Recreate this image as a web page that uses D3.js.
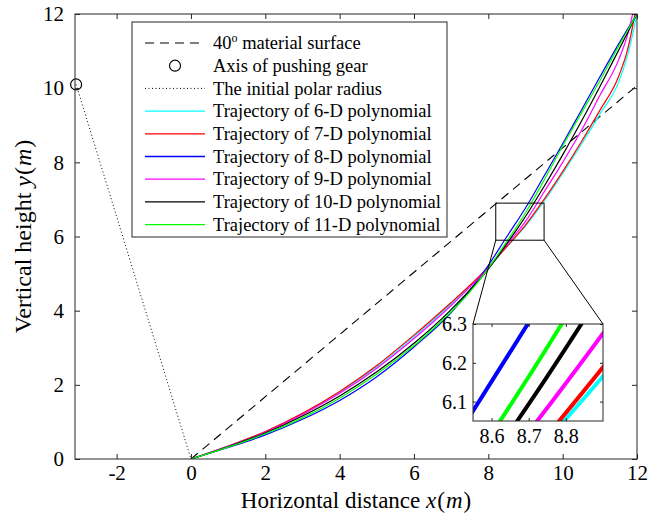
<!DOCTYPE html>
<html>
<head>
<meta charset="utf-8">
<script src="https://cdn.jsdelivr.net/npm/d3@7/dist/d3.min.js"></script>
<style>
  body { margin: 0; background: #fff; }
  svg text { font-family: "Liberation Serif", "Times New Roman", serif; }
</style>
</head>
<body>
<div id="chart"></div>
<script>
// ---- data ----
const xGrid   = [0, 1, 2, 3, 4, 5, 6, 7, 7.5, 8, 8.5, 8.75, 9, 9.5, 10, 10.5, 11, 11.5, 11.75, 12];
const traj6   = [0, 0.35, 0.73, 1.22, 1.80, 2.49, 3.30, 4.18, 4.65, 5.15, 5.727, 6.00, 6.28, 6.95, 7.70, 8.48, 9.30, 10.15, 10.90, 12.00];
const traj7   = [0, 0.35, 0.74, 1.23, 1.82, 2.52, 3.34, 4.22, 4.68, 5.17, 5.73, 6.013, 6.31, 7.00, 7.75, 8.55, 9.40, 10.30, 11.05, 12.30];
const traj8   = [0, 0.31, 0.65, 1.07, 1.58, 2.22, 3.02, 3.95, 4.55, 5.22, 6.00, 6.38, 6.77, 7.63, 8.50, 9.40, 10.30, 11.18, 11.60, 12.00];
const traj9   = [0, 0.34, 0.72, 1.20, 1.77, 2.45, 3.25, 4.14, 4.63, 5.15, 5.78, 6.084, 6.41, 7.20, 8.00, 8.85, 9.80, 10.75, 11.45, 12.55];
const traj10  = [0, 0.33, 0.70, 1.16, 1.70, 2.35, 3.12, 4.03, 4.55, 5.12, 5.815, 6.165, 6.54, 7.35, 8.20, 9.10, 10.04, 11.01, 11.50, 12.00];
const traj11  = [0, 0.32, 0.68, 1.11, 1.64, 2.29, 3.06, 3.97, 4.50, 5.14, 5.87, 6.24, 6.64, 7.52, 8.44, 9.32, 10.20, 11.12, 11.56, 12.00];

const seriesNames  = ["Trajectory of 6-D polynomial", "Trajectory of 7-D polynomial", "Trajectory of 8-D polynomial",
                      "Trajectory of 9-D polynomial", "Trajectory of 10-D polynomial", "Trajectory of 11-D polynomial"];
const seriesColors = ["#00ffff", "#ff0000", "#0000ff", "#ff00ff", "#000000", "#00ff00"];
const seriesValues = [traj6, traj7, traj8, traj9, traj10, traj11];

const gearAxis     = [-3.09, 10.1];   // axis of pushing gear
const origin       = [0, 0];
const surfaceEnd   = [12, 10.07];     // 40 deg material surface
const xTicks       = [-2, 0, 2, 4, 6, 8, 10, 12];
const yTicks       = [0, 2, 4, 6, 8, 10, 12];
const xDomain      = [-3.12, 12.0];
const yDomain      = [0, 12];
const zoomX        = [8.2, 9.5];      // rectangle marked on the main plot
const zoomY        = [5.9, 6.9];
const insetXDomain = [8.55, 8.9];
const insetYDomain = [6.05, 6.3];
const insetXTicks  = [8.6, 8.7, 8.8];
const insetYTicks  = [6.1, 6.2, 6.3];

// ---- layout ----
const W = 656, H = 519;
const m = {left: 75, right: 19, top: 14, bottom: 60};
const pw = W - m.left - m.right, ph = H - m.top - m.bottom;
const axisColor = "#262626";
const serif = "'Liberation Serif', 'Times New Roman', serif";

const svg = d3.select("#chart").append("svg")
  .attr("width", W).attr("height", H)
  .attr("font-family", serif);

const x = d3.scaleLinear().domain(xDomain).range([m.left, m.left + pw]);
const y = d3.scaleLinear().domain(yDomain).range([m.top + ph, m.top]);

svg.append("clipPath").attr("id", "mainClip")
  .append("rect").attr("x", m.left).attr("y", m.top).attr("width", pw).attr("height", ph);

const plot = svg.append("g").attr("clip-path", "url(#mainClip)");

// material surface
plot.append("line")
  .attr("x1", x(origin[0])).attr("y1", y(origin[1]))
  .attr("x2", x(surfaceEnd[0])).attr("y2", y(surfaceEnd[1]))
  .attr("stroke", "#000").attr("stroke-width", 1.1).attr("stroke-dasharray", "9,6");

// initial polar radius
plot.append("line")
  .attr("x1", x(gearAxis[0])).attr("y1", y(gearAxis[1]))
  .attr("x2", x(origin[0])).attr("y2", y(origin[1]))
  .attr("stroke", "#000").attr("stroke-width", 1).attr("stroke-dasharray", "1,2.5");

const line = d3.line().x(d => x(d[0])).y(d => y(d[1])).curve(d3.curveMonotoneX);
seriesValues.forEach((vals, i) => {
  plot.append("path")
    .datum(xGrid.map((xv, j) => [xv, vals[j]]))
    .attr("d", line)
    .attr("fill", "none")
    .attr("stroke", seriesColors[i])
    .attr("stroke-width", 1.2);
});

// gear axis marker (not clipped so the whole circle shows)
svg.append("circle")
  .attr("cx", x(gearAxis[0])).attr("cy", y(gearAxis[1])).attr("r", 5.5)
  .attr("fill", "none").attr("stroke", "#000").attr("stroke-width", 1.2);

// zoom rectangle
plot.append("rect")
  .attr("x", x(zoomX[0])).attr("y", y(zoomY[1]))
  .attr("width", x(zoomX[1]) - x(zoomX[0])).attr("height", y(zoomY[0]) - y(zoomY[1]))
  .attr("fill", "none").attr("stroke", "#000").attr("stroke-width", 1);

// axes (ticks inward, box on)
function styleAxis(g, size) {
  g.attr("font-family", serif).attr("font-size", size);
  g.select(".domain").remove();
  g.selectAll(".tick line").attr("stroke", axisColor);
  g.selectAll(".tick text").attr("fill", "#000").attr("font-size", size).attr("font-family", serif);
}
svg.append("g").attr("transform", `translate(0,${m.top + ph})`)
  .call(d3.axisBottom(x).tickValues(xTicks).tickSizeInner(-5).tickSizeOuter(0).tickPadding(6).tickFormat(d => String(d)))
  .call(styleAxis, 21);
svg.append("g").attr("transform", `translate(0,${m.top})`)
  .call(d3.axisTop(x).tickValues(xTicks).tickSizeInner(-5).tickSizeOuter(0).tickFormat(""))
  .call(styleAxis, 21);
svg.append("g").attr("transform", `translate(${m.left},0)`)
  .call(d3.axisLeft(y).tickValues(yTicks).tickSizeInner(-5).tickSizeOuter(0).tickPadding(11).tickFormat(d => String(d)))
  .call(styleAxis, 21);
svg.append("g").attr("transform", `translate(${m.left + pw},0)`)
  .call(d3.axisRight(y).tickValues(yTicks).tickSizeInner(-5).tickSizeOuter(0).tickFormat(""))
  .call(styleAxis, 21);
svg.append("rect").attr("x", m.left).attr("y", m.top).attr("width", pw).attr("height", ph)
  .attr("fill", "none").attr("stroke", axisColor).attr("stroke-width", 1);

// axis labels
function mathLabel(t, words, v) {
  t.append("tspan").text(words);
  t.append("tspan").attr("font-style", "italic").text(v);
  t.append("tspan").attr("dx", 1).text("(");
  t.append("tspan").attr("font-style", "italic").attr("dx", 1).text("m");
  t.append("tspan").attr("dx", 1).text(")");
}
const xl = svg.append("text").attr("x", m.left + pw / 2).attr("y", 508)
  .attr("text-anchor", "middle").attr("font-size", 23).attr("fill", "#000");
mathLabel(xl, "Horizontal distance ", "x");

const yl = svg.append("text")
  .attr("transform", `translate(31,${m.top + ph / 2}) rotate(-90)`)
  .attr("text-anchor", "middle").attr("font-size", 24).attr("fill", "#000");
mathLabel(yl, "Vertical height ", "y");

// ---- legend ----
const lg = svg.append("g");
const lgX = 132, lgY = 22, lgW = 315, lgH = 215, rowH = 22.7, firstRow = 43;
lg.append("rect").attr("x", lgX).attr("y", lgY).attr("width", lgW).attr("height", lgH)
  .attr("fill", "#fff").attr("stroke", axisColor).attr("stroke-width", 1);

const legendRows = [
  {label: "surface"}, {label: "gear"}, {label: "radius"}
].concat(seriesNames.map((n, i) => ({label: n, color: seriesColors[i]})));

legendRows.forEach((r, i) => {
  const cy = firstRow + i * rowH;
  const sx0 = 145, sx1 = 205, tx = 213;
  if (i === 0) {
    lg.append("line").attr("x1", sx0).attr("x2", sx1).attr("y1", cy).attr("y2", cy)
      .attr("stroke", "#000").attr("stroke-width", 1.1).attr("stroke-dasharray", "9,6");
    const t = lg.append("text").attr("x", tx).attr("y", cy).attr("dy", "0.33em").attr("font-size", 18.5);
    t.append("tspan").text("40");
    t.append("tspan").attr("font-size", 12).attr("dy", "-0.6em").text("o");
    t.append("tspan").attr("dy", "0.4em").text(" material surface");
  } else if (i === 1) {
    lg.append("circle").attr("cx", (sx0 + sx1) / 2).attr("cy", cy).attr("r", 5.5)
      .attr("fill", "none").attr("stroke", "#000").attr("stroke-width", 1.2);
    lg.append("text").attr("x", tx).attr("y", cy).attr("dy", "0.33em").attr("font-size", 18.5)
      .text("Axis of pushing gear");
  } else if (i === 2) {
    lg.append("line").attr("x1", sx0).attr("x2", sx1).attr("y1", cy).attr("y2", cy)
      .attr("stroke", "#000").attr("stroke-width", 1).attr("stroke-dasharray", "1,2.5");
    lg.append("text").attr("x", tx).attr("y", cy).attr("dy", "0.33em").attr("font-size", 18.5)
      .text("The initial polar radius");
  } else {
    lg.append("line").attr("x1", sx0).attr("x2", sx1).attr("y1", cy).attr("y2", cy)
      .attr("stroke", r.color).attr("stroke-width", 1.3);
    lg.append("text").attr("x", tx).attr("y", cy).attr("dy", "0.33em").attr("font-size", 18.5)
      .text(r.label);
  }
});

// ---- inset ----
const ib = {left: 473, top: 324, width: 130, height: 97};
const ix = d3.scaleLinear().domain(insetXDomain).range([ib.left, ib.left + ib.width]);
const iy = d3.scaleLinear().domain(insetYDomain).range([ib.top + ib.height, ib.top]);

// connectors from the zoom rectangle to the inset
svg.append("line").attr("x1", x(zoomX[0])).attr("y1", y(zoomY[0]))
  .attr("x2", ib.left).attr("y2", ib.top).attr("stroke", "#000").attr("stroke-width", 1);
svg.append("line").attr("x1", x(zoomX[1])).attr("y1", y(zoomY[0]))
  .attr("x2", ib.left + ib.width).attr("y2", ib.top).attr("stroke", "#000").attr("stroke-width", 1);

svg.append("rect").attr("x", ib.left).attr("y", ib.top).attr("width", ib.width).attr("height", ib.height)
  .attr("fill", "#fff");

svg.append("clipPath").attr("id", "insetClip")
  .append("rect").attr("x", ib.left).attr("y", ib.top).attr("width", ib.width).attr("height", ib.height);
const inset = svg.append("g").attr("clip-path", "url(#insetClip)");
const iline = d3.line().x(d => ix(d[0])).y(d => iy(d[1])).curve(d3.curveMonotoneX);
seriesValues.forEach((vals, i) => {
  inset.append("path")
    .datum(xGrid.map((xv, j) => [xv, vals[j]]))
    .attr("d", iline)
    .attr("fill", "none")
    .attr("stroke", seriesColors[i])
    .attr("stroke-width", 4);
});

svg.append("g").attr("transform", `translate(0,${ib.top + ib.height})`)
  .call(d3.axisBottom(ix).tickValues(insetXTicks).tickSizeInner(-3).tickSizeOuter(0).tickPadding(8).tickFormat(d3.format(".1f")))
  .call(styleAxis, 20);
svg.append("g").attr("transform", `translate(0,${ib.top})`)
  .call(d3.axisTop(ix).tickValues(insetXTicks).tickSizeInner(-3).tickSizeOuter(0).tickFormat(""))
  .call(styleAxis, 20);
svg.append("g").attr("transform", `translate(${ib.left},0)`)
  .call(d3.axisLeft(iy).tickValues(insetYTicks).tickSizeInner(-3).tickSizeOuter(0).tickPadding(6).tickFormat(d3.format(".1f")))
  .call(styleAxis, 20);
svg.append("g").attr("transform", `translate(${ib.left + ib.width},0)`)
  .call(d3.axisRight(iy).tickValues(insetYTicks).tickSizeInner(-3).tickSizeOuter(0).tickFormat(""))
  .call(styleAxis, 20);
svg.append("rect").attr("x", ib.left).attr("y", ib.top).attr("width", ib.width).attr("height", ib.height)
  .attr("fill", "none").attr("stroke", axisColor).attr("stroke-width", 1);
</script>
</body>
</html>
